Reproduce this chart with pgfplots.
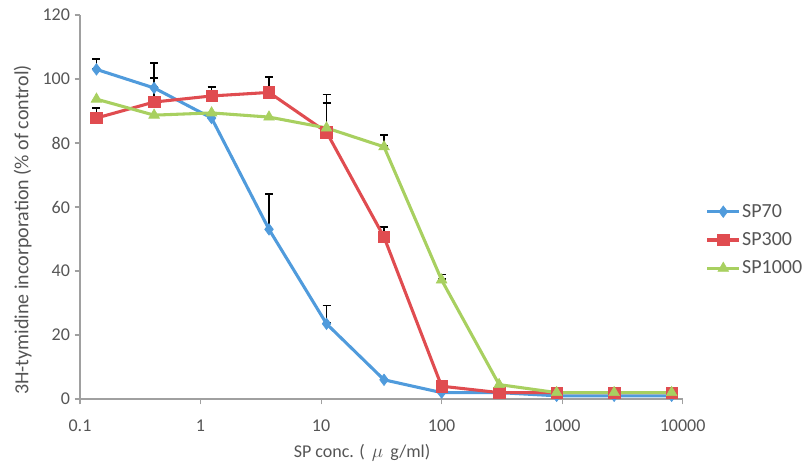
\documentclass[border=0pt]{standalone}
\usepackage{fontspec}
\setmainfont{Carlito}
\usepackage{pgfplots}
\pgfplotsset{compat=1.18}
\usetikzlibrary{arrows.meta}
\definecolor{cblue}{RGB}{80,155,220}
\definecolor{cred}{RGB}{224,76,80}
\definecolor{cgreen}{RGB}{168,208,96}
\definecolor{axgray}{RGB}{160,160,160}
\definecolor{txt}{RGB}{85,85,85}
\pgfplotstableread{
x y
0.137 103
0.412 97.2
1.235 87.8
3.70 53
11.1 23.5
33.3 6
100 2
300 2
900 1
2700 1
8100 1
}\spseventy
\pgfplotstableread{
x y
0.137 87.8
0.412 92.8
1.235 94.7
3.70 95.8
11.1 83.4
33.3 50.6
100 4
300 2
900 2
2700 2
8100 2
}\spthree
\pgfplotstableread{
x y
0.137 93.7
0.412 88.7
1.235 89.4
3.70 88.1
11.1 84.7
33.3 78.8
100 37.2
300 4.5
900 2
2700 2
8100 2
}\spthousand
\pgfplotstableread{
x y e
0.137 103 3.5
0.412 97.2 8
3.70 53 11.4
11.1 23.5 6
0.137 87.8 3.5
0.412 92.8 7.8
1.235 94.7 3
3.70 95.8 5
11.1 83.4 12
33.3 50.6 3.5
11.1 84.7 8
33.3 78.8 4
100 37.2 2
}\errs
\begin{document}
\begin{tikzpicture}
\begin{axis}[
  scale only axis, width=452pt, height=288pt,
  xmode=log, xmin=0.1, xmax=10000, ymin=0, ymax=120,
  xtick={0.1,1,10,100,1000,10000},
  xticklabels={0.1,1,10,100,1000,10000},
  ytick={0,20,...,120},
  xminorticks=false,
  axis lines*=left,
  axis line style={axgray, line width=1pt},
  tick style={axgray, line width=0.8pt},
  tick align=outside, major tick length=4pt,
  /pgf/number format/assume math mode=true,
  ticklabel style={font=\fontsize{13.5}{15}\selectfont, text=txt},
  xticklabel style={yshift=-8pt},
  xlabel={SP conc. ( \,$\mu$\, g/ml)},
  ylabel={3H-tymidine incorporation (\% of control)},
  xlabel style={at={(axis description cs:0.468,-0.14)}, anchor=center, font=\fontsize{13.5}{15}\selectfont, text=txt},
  ylabel style={at={(axis description cs:-0.095,0.44)}, anchor=center, font=\fontsize{15}{17}\selectfont, text=txt},
  legend style={draw=none, fill=none, inner sep=0pt, at={(1.038,0.414)}, anchor=west,
    font=\fontsize{15}{17}\selectfont, text=txt, row sep=6pt,
    nodes={inner xsep=1pt}},
  legend image code/.code={\draw[mark repeat=2,mark phase=2] plot coordinates {(0cm,0cm) (0.42cm,0cm) (0.84cm,0cm)};},
  legend cell align=left,
  clip=false,
]
\addplot[black, only marks, mark=none, forget plot,
  error bars/.cd, y dir=plus, y explicit,
  error mark=none,
  error bar style={black, line width=1.3pt, {Bar[width=6pt]}-{Bar[width=6pt]}}]
  table[x=x, y=y, y error=e]{\errs};
\addplot[cblue, line width=2.3pt, mark=diamond*, mark size=4.3pt, mark options={solid, fill=cblue, line width=0.5pt}] table[x=x,y=y]{\spseventy};
\addlegendentry{SP70}
\addplot[cred, line width=2.3pt, mark=square*, mark size=4.3pt, mark options={solid, fill=cred, line width=0.5pt}] table[x=x,y=y]{\spthree};
\addlegendentry{SP300}
\addplot[cgreen, line width=2.3pt, mark=triangle*, mark size=4.6pt, mark options={solid, fill=cgreen, line width=0.5pt}] table[x=x,y=y]{\spthousand};
\addlegendentry{SP1000}
\end{axis}
\pgfresetboundingbox
\path (current axis.south west) ++(-60pt,-53.25pt) rectangle ++(606.75pt,352.5pt);
\end{tikzpicture}
\end{document}
